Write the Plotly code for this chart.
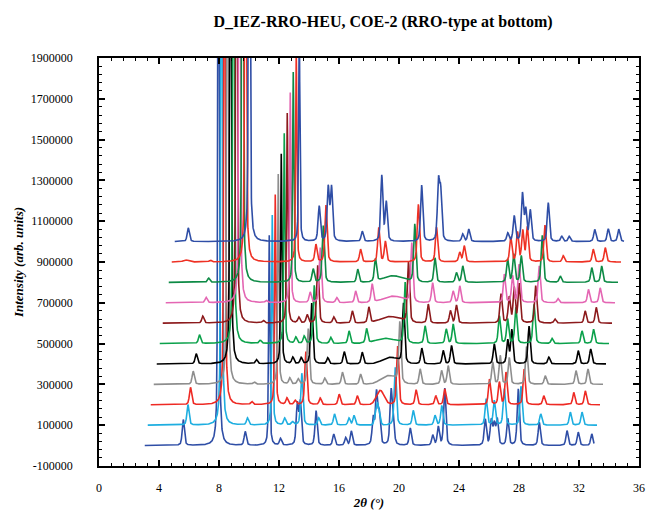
import numpy as np
import plotly.graph_objects as go

# ---------------- data ----------------
title_text = "D_IEZ-RRO-HEU, COE-2 (RRO-type at bottom)"
x_title = "2θ (°)"
y_title = "Intensity (arb. units)"

x_tick_values = [0, 4, 8, 12, 16, 20, 24, 28, 32, 36]
x_tick_labels = ["0", "4", "8", "12", "16", "20", "24", "28", "32", "36"]
y_tick_values = [-100000, 100000, 300000, 500000, 700000, 900000,
                 1100000, 1300000, 1500000, 1700000, 1900000]
y_tick_labels = ["-100000", "100000", "300000", "500000", "700000", "900000",
                 "1100000", "1300000", "1500000", "1700000", "1900000"]

# waterfall offsets between successive patterns
shift_2theta = 0.2
shift_intensity = 100000
scan_start, scan_end = 3.05, 33.0

# peak tables: [2θ, height above baseline, (optional FWHM)]
peaks_0 = [[5.62, 127e3], [7.97, 4.0e6, 0.1], [9.75, 68e3], [11.35, 1.03e6, 0.1], [12.1, 33e3],
           [13.22, 200e3], [13.42, 210e3], [14.47, 170e3], [15.65, 55e3], [16.45, 38e3],
           [16.82, 70e3], [18.28, 130e3], [18.5, 250e3], [18.68, 150e3], [19.47, 260e3],
           [19.62, 110e3], [20.75, 85e3], [22.25, 49e3], [22.62, 90e3], [23.05, 280e3],
           [25.75, 127e3], [26.15, 120e3], [26.35, 100e3], [26.55, 125e3], [27.25, 130e3],
           [27.95, 277e3], [29.35, 114e3], [31.2, 73e3], [31.95, 65e3], [32.85, 57e3]]
peaks_1 = [[5.73, 100e3], [7.97, 4.0e6, 0.1], [9.7, 34e3], [11.35, 1.03e6, 0.1], [12.18, 33e3],
           [12.7, 15e3], [13.32, 254e3], [14.45, 35e3], [15.5, 55e3], [16.47, 34e3],
           [16.8, 47e3], [18.35, 110e3, 0.3], [19.55, 283e3], [20.75, 72e3], [22.2, 47e3],
           [22.65, 96e3], [25.61, 128e3], [26.15, 120e3], [26.82, 178e3], [27.93, 190e3],
           [29.25, 55e3], [31.22, 64e3], [32.0, 64e3]]
peaks_2 = [[5.70, 85e3], [7.97, 4.0e6, 0.1], [9.78, 15e3], [11.35, 1.03e6, 0.1], [12.13, 32e3],
           [12.68, 20e3], [13.39, 260e3], [14.35, 32e3], [15.61, 52e3], [16.82, 44e3],
           [18.35, 70e3, 0.6], [19.51, 288e3], [20.74, 73e3], [22.05, 44e3], [22.65, 77e3],
           [25.63, 125e3], [26.29, 110e3], [26.73, 158e3], [27.94, 175e3], [29.25, 44e3],
           [31.25, 60e3], [32.02, 68e3]]
peaks_3 = [[5.68, 64e3], [7.97, 4.0e6, 0.1], [9.75, 10e3], [11.35, 1.03e6, 0.1], [12.12, 30e3],
           [12.68, 25e3], [13.35, 273e3], [14.45, 30e3], [15.63, 59e3], [16.84, 50e3],
           [18.7, 42e3, 1.2], [19.45, 295e3], [20.81, 75e3], [22.24, 67e3], [22.68, 91e3],
           [25.65, 108e3], [26.15, 140e3], [26.75, 130e3], [27.9, 185e3], [29.15, 42e3],
           [31.2, 67e3], [32.0, 75e3]]
peaks_4 = [[5.68, 50e3], [7.97, 4.0e6, 0.1], [9.7, 20e3], [11.35, 1.03e6, 0.1], [12.12, 32e3],
           [12.68, 30e3], [13.38, 298e3], [14.45, 30e3], [15.55, 60e3], [16.75, 57e3],
           [18.6, 32e3, 1.2], [19.5, 293e3], [20.72, 77e3], [22.15, 65e3], [22.7, 90e3],
           [25.55, 98e3], [26.45, 114e3], [26.72, 165e3], [27.87, 185e3], [29.19, 33e3],
           [31.15, 65e3], [31.98, 73e3]]
peaks_5 = [[5.70, 42e3], [7.97, 4.0e6, 0.1], [9.75, 15e3], [11.35, 1.03e6, 0.1], [12.12, 30e3],
           [12.68, 35e3], [13.35, 285e3], [14.45, 30e3], [15.67, 62e3], [16.84, 70e3],
           [18.1, 25e3, 1.5], [19.41, 298e3], [20.74, 86e3], [22.15, 70e3], [22.61, 95e3],
           [25.69, 135e3], [26.24, 119e3], [26.79, 176e3], [28.0, 192e3], [29.2, 25e3],
           [31.2, 62e3], [31.97, 70e3]]
peaks_6 = [[5.72, 34e3], [7.97, 4.0e6, 0.1], [9.75, 12e3], [11.35, 1.03e6, 0.1], [12.12, 28e3],
           [12.68, 40e3], [13.38, 283e3], [14.45, 30e3], [15.69, 60e3], [16.79, 77e3],
           [18.2, 32e3, 1.5], [19.43, 297e3], [20.75, 93e3], [22.23, 60e3], [22.63, 88e3],
           [25.6, 142e3], [26.15, 125e3], [26.48, 170e3], [26.81, 190e3], [27.91, 183e3],
           [29.2, 20e3], [31.21, 60e3], [31.95, 77e3]]
peaks_7 = [[5.74, 26e3], [7.97, 4.0e6, 0.1], [9.75, 10e3], [11.35, 1.03e6, 0.1], [12.68, 50e3],
           [13.35, 270e3], [14.45, 25e3], [15.71, 57e3], [16.81, 90e3], [18.2, 32e3, 1.5],
           [19.45, 290e3], [20.84, 98e3], [22.21, 57e3], [22.65, 82e3], [25.62, 139e3],
           [26.17, 130e3], [26.61, 187e3], [27.95, 180e3], [29.2, 20e3], [31.23, 65e3],
           [32.01, 73e3]]
peaks_8 = [[5.71, 20e3], [7.97, 4.0e6, 0.1], [11.35, 1.03e6, 0.1], [12.68, 65e3],
           [13.35, 278e3], [15.65, 64e3], [16.83, 112e3], [18.0, 32e3, 1.5], [19.45, 284e3],
           [20.8, 120e3], [22.23, 47e3], [22.65, 80e3], [25.64, 112e3], [26.05, 137e3],
           [26.55, 130e3], [27.95, 230e3], [29.15, 31e3], [31.25, 72e3], [31.91, 80e3]]
peaks_9 = [[3.97, 10e3, 0.4], [5.62, 8e3], [7.97, 4.0e6, 0.1], [11.35, 1.03e6, 0.1],
           [12.66, 85e3], [13.33, 278e3], [15.64, 62e3], [16.85, 168e3], [17.29, 100e3],
           [19.49, 282e3], [20.7, 170e3], [22.25, 46e3], [22.55, 78e3], [25.65, 120e3],
           [26.1, 143e3], [26.45, 150e3], [26.75, 168e3], [27.93, 180e3], [29.15, 30e3],
           [31.15, 62e3], [31.95, 70e3]]
peaks_10 = [[3.95, 67e3], [8.02, 4.0e6, 0.1], [11.35, 1.03e6, 0.1], [12.68, 172e3],
            [13.28, 260e3], [13.5, 260e3], [15.55, 50e3], [16.85, 320e3], [17.15, 190e3],
            [19.51, 275e3], [20.63, 280e3], [20.78, 230e3], [22.25, 36e3], [22.65, 60e3],
            [25.25, 40e3], [25.68, 124e3], [26.23, 230e3], [26.45, 150e3], [26.75, 150e3],
            [27.95, 190e3], [28.85, 25e3], [29.35, 25e3], [31.05, 59e3], [31.95, 62e3],
            [32.65, 60e3]]

pattern_tables = [peaks_0, peaks_1, peaks_2, peaks_3, peaks_4, peaks_5,
                  peaks_6, peaks_7, peaks_8, peaks_9, peaks_10]

# ---------------- styles ----------------
line_colors = ["#2f4ea6", "#1eaee0", "#ee2a24", "#8e8e8e", "#000000", "#0ba14b",
               "#8c1a1c", "#e466b3", "#0d8a45", "#ee3124", "#2f4ea6"]
SERIF = "Liberation Serif, Times New Roman, serif"


def render(x, table):
    """Pseudo-Voigt rendering of a peak table."""
    y = np.zeros_like(x)
    for pk in table:
        pos, h = pk[0], pk[1]
        w = pk[2] if len(pk) > 2 else 0.17
        eta = 0.45 if w < 0.3 else 0.0
        u = (x - pos) / w
        g = np.exp(-4 * np.log(2) * u ** 2)
        lor = 1.0 / (1.0 + 4 * u ** 2)
        y += h * (eta * lor + (1 - eta) * g)
    return y


fig = go.Figure()
own = np.arange(scan_start, scan_end + 1e-9, 0.01)
for i, table in enumerate(pattern_tables):
    fig.add_trace(go.Scatter(
        x=own + shift_2theta * i,
        y=render(own, table) + shift_intensity * i,
        mode="lines",
        line=dict(color=line_colors[i], width=1.6),
        hoverinfo="skip",
        showlegend=False,
    ))

axis_common = dict(
    showgrid=False, zeroline=False,
    showline=True, linecolor="black", linewidth=1.5, mirror="ticks",
    ticks="inside", ticklen=6, tickwidth=1.5, tickcolor="black",
    tickfont=dict(family=SERIF, size=12, color="black"),
)

fig.update_layout(
    width=651, height=514, autosize=False,
    margin=dict(l=99, r=6, t=58, b=46),
    paper_bgcolor="white", plot_bgcolor="white",
    showlegend=False,
    title=dict(text="<b>" + title_text + "</b>", x=383 / 651, xref="container",
               xanchor="center", y=1 - 21 / 514, yref="container", yanchor="middle",
               font=dict(family=SERIF, size=16, color="black")),
    xaxis=dict(range=[0, 36], tickvals=x_tick_values, ticktext=x_tick_labels,
               ticklabelstandoff=10,
               minor=dict(dtick=0.8, tick0=0, ticks="inside", ticklen=3,
                          tickwidth=1, tickcolor="black"),
               title=dict(text=x_title, standoff=4,
                          font=dict(family=SERIF, size=13, color="black",
                                    weight="bold", style="italic")),
               **axis_common),
    yaxis=dict(range=[-100000, 1900000], tickvals=y_tick_values, ticktext=y_tick_labels,
               ticklabelstandoff=22,
               minor=dict(dtick=40000, tick0=-100000, ticks="inside", ticklen=3,
                          tickwidth=1, tickcolor="black"),
               title=dict(text=y_title, standoff=4,
                          font=dict(family=SERIF, size=13, color="black",
                                    weight="bold", style="italic")),
               **axis_common),
)

fig.write_html("out.html",
               config={"displayModeBar": False},
               post_script="document.body.style.margin='0';"
                           "document.body.style.overflow='hidden';")
